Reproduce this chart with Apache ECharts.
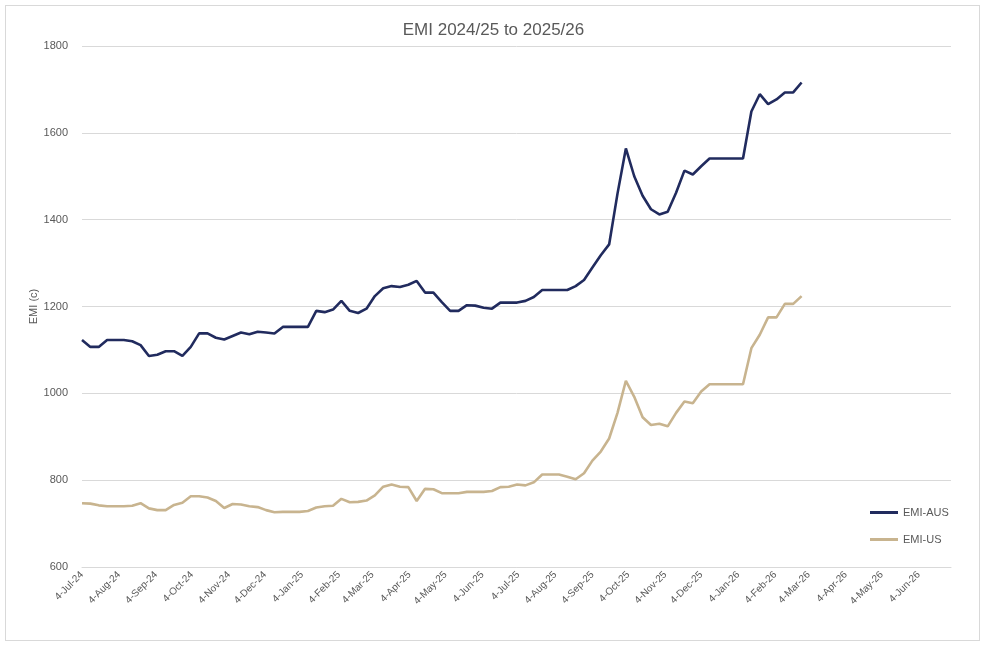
<!DOCTYPE html>
<html>
<head>
<meta charset="utf-8">
<script src="https://cdn.jsdelivr.net/npm/echarts@6/dist/echarts.min.js"></script>
<style>
html,body{margin:0;padding:0;background:#fff;}
#frame{position:absolute;left:5px;top:5px;width:975px;height:636px;border:1px solid #d9d9d9;box-sizing:border-box;}
#chart{position:absolute;left:0;top:0;width:987px;height:648px;}
</style>
</head>
<body>
<div id="frame"></div>
<div id="chart"></div>
<script>
const titleText = 'EMI 2024/25 to 2025/26';
const seriesNames = ['EMI-AUS', 'EMI-US'];
const dates = [
 '2024-07-04','2024-07-11','2024-07-18','2024-07-25','2024-08-01','2024-08-08','2024-08-15','2024-08-22','2024-08-29',
 '2024-09-05','2024-09-12','2024-09-19','2024-09-26','2024-10-03','2024-10-10','2024-10-17','2024-10-24','2024-10-31',
 '2024-11-07','2024-11-14','2024-11-21','2024-11-28','2024-12-05','2024-12-12','2024-12-19','2024-12-26',
 '2025-01-02','2025-01-09','2025-01-16','2025-01-23','2025-01-30','2025-02-06','2025-02-13','2025-02-20','2025-02-27',
 '2025-03-06','2025-03-13','2025-03-20','2025-03-27','2025-04-03','2025-04-10','2025-04-17','2025-04-24',
 '2025-05-01','2025-05-08','2025-05-15','2025-05-22','2025-05-29','2025-06-05','2025-06-12','2025-06-19','2025-06-26',
 '2025-07-03','2025-07-10','2025-07-17','2025-07-24','2025-07-31','2025-08-07','2025-08-14','2025-08-21','2025-08-28',
 '2025-09-04','2025-09-11','2025-09-18','2025-09-25','2025-10-02','2025-10-09','2025-10-16','2025-10-23','2025-10-30',
 '2025-11-06','2025-11-13','2025-11-20','2025-11-27','2025-12-04','2025-12-11','2025-12-18','2025-12-25',
 '2026-01-01','2026-01-08','2026-01-15','2026-01-22','2026-01-29','2026-02-05','2026-02-12','2026-02-19','2026-02-26'
];
const emiAus = [
 1123,1107,1107,1123,1123,1123,1120,1111,1086,1089,
 1097,1097,1086,1107,1138,1138,1128,1124,1132,1140,
 1136,1142,1140,1138,1153,1153,1153,1153,1190,1187,
 1193,1213,1190,1185,1195,1224,1242,1247,1245,1250,
 1259,1232,1232,1210,1190,1190,1203,1202,1197,1195,
 1209,1209,1209,1213,1222,1238,1238,1238,1238,1247,
 1261,1290,1318,1343,1460,1564,1500,1455,1424,1412,
 1418,1462,1513,1504,1523,1541,1541,1541,1541,1541,
 1649,1689,1666,1677,1693,1693,1716
];
const emiUs = [
 747,746,742,740,740,740,741,747,735,731,
 731,743,748,763,763,760,752,736,745,744,
 740,738,731,726,727,727,727,729,737,740,
 741,757,749,750,753,765,785,790,785,784,
 752,780,779,770,770,770,773,773,773,775,
 784,785,790,788,795,813,813,813,808,802,
 816,845,866,896,955,1029,992,945,927,930,
 924,955,981,977,1004,1021,1021,1021,1021,1021,
 1104,1135,1175,1175,1206,1206,1224
];
const tickDates = [
 '2024-07-04','2024-08-04','2024-09-04','2024-10-04','2024-11-04','2024-12-04',
 '2025-01-04','2025-02-04','2025-03-04','2025-04-04','2025-05-04','2025-06-04',
 '2025-07-04','2025-08-04','2025-09-04','2025-10-04','2025-11-04','2025-12-04',
 '2026-01-04','2026-02-04','2026-03-04','2026-04-04','2026-05-04','2026-06-04'
];
const axisStart = '2024-07-04';
const axisEnd = '2026-07-01';
const monthNames = ['Jan','Feb','Mar','Apr','May','Jun','Jul','Aug','Sep','Oct','Nov','Dec'];
const yTicks = {min: 600, max: 1800, interval: 200};

function ts(s) { const p = s.split('-').map(Number); return Date.UTC(p[0], p[1] - 1, p[2]); }

const chart = echarts.init(document.getElementById('chart'));
const font = "'Liberation Sans', Arial, sans-serif";
chart.setOption({
  animation: false,
  textStyle: {fontFamily: font},
  title: {
    text: titleText, left: 'center', top: 17,
    textStyle: {fontSize: 17, fontWeight: 'normal', color: '#595959', fontFamily: font}
  },
  grid: {left: 82, right: 36, top: 46, bottom: 81, containLabel: false},
  legend: {
    orient: 'vertical', left: 870, top: 507, itemGap: 16, padding: 0,
    icon: 'rect', itemWidth: 28, itemHeight: 3,
    textStyle: {fontSize: 11, color: '#595959', fontFamily: font},
    data: seriesNames
  },
  xAxis: {
    type: 'value',
    min: ts(axisStart), max: ts(axisEnd),
    axisLine: {show: true, lineStyle: {color: '#d9d9d9'}},
    axisTick: {show: false},
    splitLine: {show: false},
    axisLabel: {
      customValues: tickDates.map(ts),
      rotate: 45, fontSize: 10, color: '#595959', margin: 6, hideOverlap: false,
      showMinLabel: true, showMaxLabel: true,
      fontFamily: font,
      formatter: function (v) {
        const d = new Date(v);
        return d.getUTCDate() + '-' + monthNames[d.getUTCMonth()] + '-' + String(d.getUTCFullYear()).slice(2);
      }
    }
  },
  yAxis: {
    type: 'value', min: yTicks.min, max: yTicks.max, interval: yTicks.interval,
    name: 'EMI (c)', nameLocation: 'middle', nameGap: 43, nameRotate: 90, nameMoveOverlap: false,
    nameTextStyle: {fontSize: 11, color: '#595959', fontFamily: font},
    axisLine: {show: false}, axisTick: {show: false},
    splitLine: {lineStyle: {color: '#d9d9d9', width: 1}},
    axisLabel: {fontSize: 11, color: '#595959', margin: 14, fontFamily: font,
      formatter: function (v) { return String(v); }}
  },
  series: [
    {
      name: seriesNames[0], type: 'line', showSymbol: false, symbol: 'none',
      data: dates.map((d, i) => [ts(d), emiAus[i]]),
      lineStyle: {color: '#212B5E', width: 2.6},
      itemStyle: {color: '#212B5E'}
    },
    {
      name: seriesNames[1], type: 'line', showSymbol: false, symbol: 'none',
      data: dates.map((d, i) => [ts(d), emiUs[i]]),
      lineStyle: {color: '#C8B48F', width: 2.6},
      itemStyle: {color: '#C8B48F'}
    }
  ]
});
</script>
</body>
</html>
